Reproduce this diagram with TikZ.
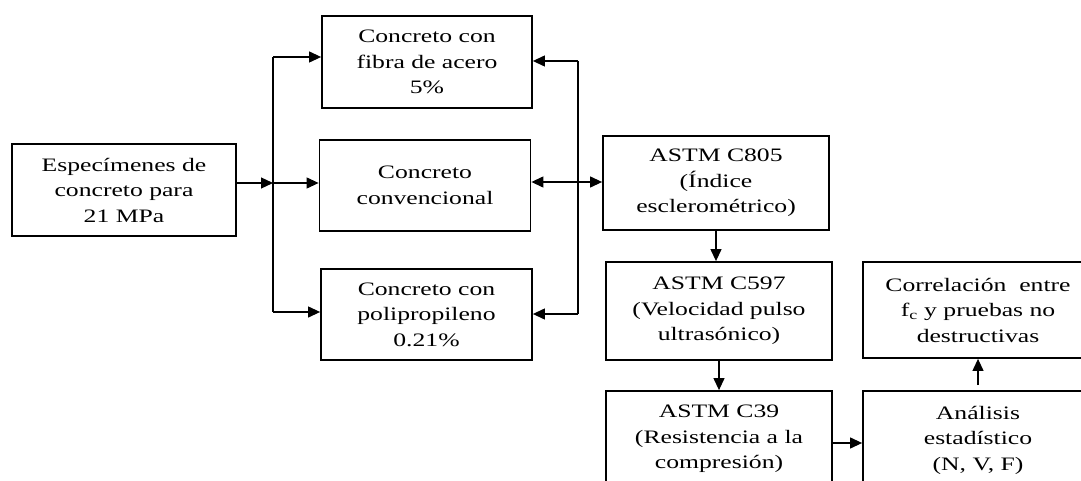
\documentclass[tikz,border=0pt]{standalone}
\usepackage{fontspec}
\setmainfont{Liberation Serif}[FakeStretch=1.35]
\usetikzlibrary{arrows.meta}
\begin{document}
\begin{tikzpicture}[x=1pt,y=-1pt,
  box/.style={draw, line width=1.8pt, align=center, inner sep=0pt, font=\fontsize{19}{25.5}\selectfont},
  line/.style={line width=1.2pt},
  conn/.style={line width=1.2pt, -{Triangle[length=12pt,width=11pt]}},
  dconn/.style={line width=1.2pt, {Triangle[length=12pt,width=11pt]}-{Triangle[length=12pt,width=11pt]}},
]
\useasboundingbox (0,0) rectangle (1081,481);
\clip (0,0) rectangle (1081,481);
\fill[white] (0,0) rectangle (1081,481);
% nodes
\node[box, minimum width=224pt, minimum height=92pt] (esp) at (124,190) {Especímenes de\\concreto para\\21 MPa};
\node[box, minimum width=210pt, minimum height=92pt] (c1) at (427,62) {Concreto con\\fibra de acero\\5\%};
\node[box, minimum width=211pt, minimum height=91pt] (c2) at (425,185.5) {Concreto\\convencional};
\node[box, minimum width=211pt, minimum height=91pt] (c3) at (426.5,314.5) {Concreto con\\polipropileno\\0.21\%};
\node[box, minimum width=226pt, minimum height=94pt] (a805) at (716,183) {ASTM C805\\(Índice\\esclerométrico)};
\node[box, minimum width=226pt, minimum height=98pt] (a597) at (719,311) {ASTM C597\\(Velocidad pulso\\ultrasónico)};
\node[box, minimum width=226pt, minimum height=96pt] (a39) at (719,439) {ASTM C39\\(Resistencia a la\\compresión)};
\node[box, minimum width=230pt, minimum height=96pt] (cor) at (978,310) {Correlación~ entre\\f\textsubscript{c} y pruebas no\\destructivas};
\node[box, minimum width=230pt, minimum height=98pt] (an) at (978,440) {Análisis\\estadístico\\(N, V, F)};
% left distribution
\coordinate (j) at (273,183);
\coordinate (jt) at (273,57);
\coordinate (jb) at (273,312);
\draw[conn] (esp.east |- j) -- (j);
\draw[line] (jt) -- (jb);
\draw[conn] (j) -- (j -| c2.west);
\draw[conn] (jt) -- (jt -| c1.west);
\draw[conn] (jb) -- (jb -| c3.west);
% right collection
\coordinate (rt) at (578,61);
\coordinate (rb) at (578,314);
\coordinate (m) at (578,182);
\draw[line] (rt) -- (rb);
\draw[conn] (rt) -- (rt -| c1.east);
\draw[conn] (rb) -- (rb -| c3.east);
\draw[dconn] (m -| c2.east) -- (m -| a805.west);
% test chain
\draw[conn] (a805.south) -- (a805.south |- a597.north);
\draw[conn] (a597.south) -- (a597.south |- a39.north);
\coordinate (h) at (830,443);
\draw[conn] (a39.east |- h) -- (h -| an.west);
\draw[conn] ([yshift=5pt]an.north) -- (cor.south);
\end{tikzpicture}
\end{document}
